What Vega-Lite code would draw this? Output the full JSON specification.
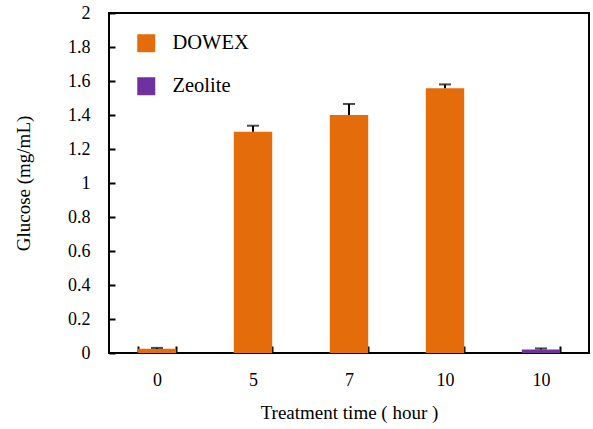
{
  "$schema": "https://vega.github.io/schema/vega-lite/v6.json",
  "width": 480,
  "height": 340,
  "autosize": {"type": "none"},
  "padding": {"left": 109, "top": 13, "right": 4, "bottom": 76},
  "background": "white",
  "view": {"stroke": "black", "strokeWidth": 2},
  "data": {
    "values": [
      {"cat": "0", "material": "DOWEX", "glucose": 0.025, "upper": 0.03},
      {"cat": "5", "material": "DOWEX", "glucose": 1.302, "upper": 1.337},
      {"cat": "7", "material": "DOWEX", "glucose": 1.40, "upper": 1.465},
      {"cat": "10", "material": "DOWEX", "glucose": 1.557, "upper": 1.58},
      {"cat": "10z", "material": "Zeolite", "glucose": 0.02, "upper": 0.027}
    ]
  },
  "encoding": {
    "x": {
      "field": "cat",
      "type": "nominal",
      "sort": ["0", "5", "7", "10", "10z"],
      "scale": {"paddingInner": 0.6, "paddingOuter": 0.3},
      "axis": {
        "title": "Treatment time ( hour )",
        "domain": false,
        "grid": false,
        "tickColor": "black",
        "tickWidth": 2,
        "labelFont": "Liberation Serif",
        "titleFont": "Liberation Serif",
        "labelFontSize": 18,
        "titleFontSize": 19,
        "titleFontWeight": "normal",
        "labelColor": "black",
        "titleColor": "black",
        "labelAngle": 0,
        "labelExpr": "datum.value == '10z' ? '10' : datum.value",
        "tickBand": "extent",
        "tickSize": -7,
        "labelPadding": 25,
        "titlePadding": 14
      }
    },
    "y": {
      "field": "glucose",
      "type": "quantitative",
      "scale": {"domain": [0, 2], "nice": false},
      "axis": {
        "title": "Glucose (mg/mL)",
        "domain": false,
        "grid": false,
        "tickColor": "black",
        "tickWidth": 2,
        "labelFont": "Liberation Serif",
        "titleFont": "Liberation Serif",
        "labelFontSize": 18,
        "titleFontSize": 19,
        "titleFontWeight": "normal",
        "labelColor": "black",
        "titleColor": "black",
        "labelOverlap": false,
        "values": [0, 0.2, 0.4, 0.6, 0.8, 1, 1.2, 1.4, 1.6, 1.8, 2],
        "format": "~g",
        "tickSize": -6,
        "labelPadding": 25,
        "titlePadding": 34
      }
    }
  },
  "layer": [
    {
      "mark": {"type": "bar"},
      "encoding": {
        "color": {
          "field": "material",
          "type": "nominal",
          "scale": {"domain": ["DOWEX", "Zeolite"], "range": ["#E46C0A", "#7030A0"]},
          "legend": {
            "title": null,
            "orient": "none",
            "legendX": 27,
            "legendY": 20,
            "symbolType": "square",
            "symbolSize": 324,
            "symbolStrokeWidth": 0,
            "labelFont": "Liberation Serif",
            "labelFontSize": 20.5,
            "labelColor": "black",
            "labelOffset": 16,
            "rowPadding": 22,
            "padding": 0
          }
        }
      }
    },
    {
      "mark": {"type": "rule", "color": "black", "strokeWidth": 2},
      "encoding": {
        "y2": {"field": "upper"}
      }
    },
    {
      "mark": {"type": "tick", "color": "black", "thickness": 2, "size": 12},
      "encoding": {
        "y": {
          "field": "upper",
          "type": "quantitative",
          "axis": {
            "title": "Glucose (mg/mL)",
            "domain": false,
            "grid": false,
            "tickColor": "black",
            "tickWidth": 2,
            "labelFont": "Liberation Serif",
            "titleFont": "Liberation Serif",
            "labelFontSize": 18,
            "titleFontSize": 19,
            "titleFontWeight": "normal",
            "labelColor": "black",
            "titleColor": "black",
            "labelOverlap": false,
            "values": [0, 0.2, 0.4, 0.6, 0.8, 1, 1.2, 1.4, 1.6, 1.8, 2],
            "format": "~g",
            "tickSize": -6,
            "labelPadding": 25,
            "titlePadding": 34
          }
        }
      }
    }
  ]
}
